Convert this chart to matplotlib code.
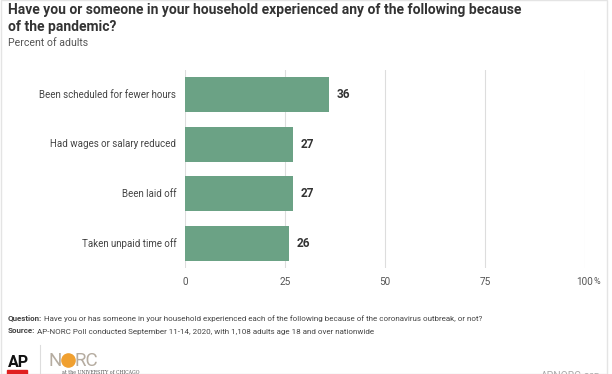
import matplotlib.pyplot as plt
from matplotlib.patches import Rectangle

# Data
categories = ["Been scheduled for fewer hours", "Had wages or salary reduced",
              "Been laid off", "Taken unpaid time off"]
values = [36, 27, 27, 26]
ticks = [0, 25, 50, 75, 100]
tick_labels = ["0", "25", "50", "75", "100"]

bar_color = "#6ba285"
W, H = 612, 374

fig = plt.figure(figsize=(W / 100, H / 100), dpi=100)
plt.rcParams['font.family'] = ['Roboto', 'DejaVu Sans']

# axes area in pixels: x 185..585, y 70..268
ax = fig.add_axes([185 / W, 1 - 268 / H, 400 / W, 198 / H])
ypos = list(range(len(categories)))
ax.barh(ypos, values, height=0.71, color=bar_color, zorder=2)
ax.set_xlim(0, 100)
ax.set_ylim(3.5, -0.5)
ax.set_xticks(ticks)
ax.set_xticklabels([])
ax.set_yticks([])
for s in ax.spines.values():
    s.set_visible(False)
ax.tick_params(length=0)
ax.grid(axis='x', color='#dddddd', linewidth=0.8, zorder=0)

for y, v, c in zip(ypos, values, categories):
    ax.text(v + 2, y, str(v), va='center', ha='left', fontsize=8.5,
            fontweight='bold', color='#333333')
    ax.text(-2.2, y, c, va='center', ha='right', fontsize=7.0,
            color='#444444')

for t, lab in zip(ticks, tick_labels):
    ax.text(t, 3.5 + 0.28, lab, ha='center', va='center', fontsize=7.2,
            color='#555555')
ax.text(102.2, 3.5 + 0.28, "%", ha='left', va='center', fontsize=6.5,
        color='#555555')

# titles
fig.text(8 / W, 1 - 3 / H, "Have you or someone in your household experienced any of the following because\nof the pandemic?",
         ha='left', va='top', fontsize=10, fontweight='bold', color='#333333',
         linespacing=1.3)
fig.text(8 / W, 1 - 38 / H, "Percent of adults", ha='left', va='top',
         fontsize=7.6, color='#555555')

# footer notes: bold lead word, plain text right after it
for yy, lead, rest in [(320, "Question:", " Have you or has someone in your household experienced each of the following because of the coronavirus outbreak, or not?"),
                       (333, "Source:", " AP-NORC Poll conducted September 11-14, 2020, with 1,108 adults age 18 and over nationwide")]:
    t = fig.text(8 / W, 1 - yy / H, lead, ha='left', va='baseline', fontsize=5.8,
                 fontweight='bold', color='#444444')
    ax.annotate(rest, xy=(1, 0), xycoords=t, ha='left', va='baseline',
                fontsize=5.8, color='#444444', annotation_clip=False)

# logos
fig.text(8 / W, 1 - 367 / H, "AP", ha='left', va='baseline', fontsize=11.5,
         fontweight='bold', color='#111111')
fig.patches.append(Rectangle((7 / W, 0), 20 / W, 4 / H, transform=fig.transFigure,
                             color='#e02020'))
fig.add_artist(plt.Line2D([40 / W, 40 / W], [0, 1 - 345 / H], transform=fig.transFigure,
                          color='#dddddd', linewidth=0.8))
fig.text(48 / W, 1 - 366 / H, "N", ha='left', va='baseline', fontsize=13.5,
         color='#b5aca0')
fig.add_artist(plt.Line2D([68 / W], [1 - 359.5 / H], transform=fig.transFigure,
                          marker='o', markersize=9.5, color='#f0a030', linestyle='none'))
fig.text(75 / W, 1 - 366 / H, "RC", ha='left', va='baseline', fontsize=13.5,
         color='#b5aca0')
fig.text(62 / W, 1 - 372 / H, "at the UNIVERSITY of CHICAGO", ha='left', va='center',
         fontsize=3.3, color='#555555', family='DejaVu Serif')
fig.text(600 / W, 1 - 376 / H, "APNORC.org", ha='right', va='center', fontsize=7.5,
         color='#aaaaaa')

# frame
fig.add_artist(Rectangle((1 / W, 0), (W - 6) / W, 1, transform=fig.transFigure,
                         fill=False, edgecolor='#e4e4e4', linewidth=1))

fig.savefig("out.png", dpi=100)
